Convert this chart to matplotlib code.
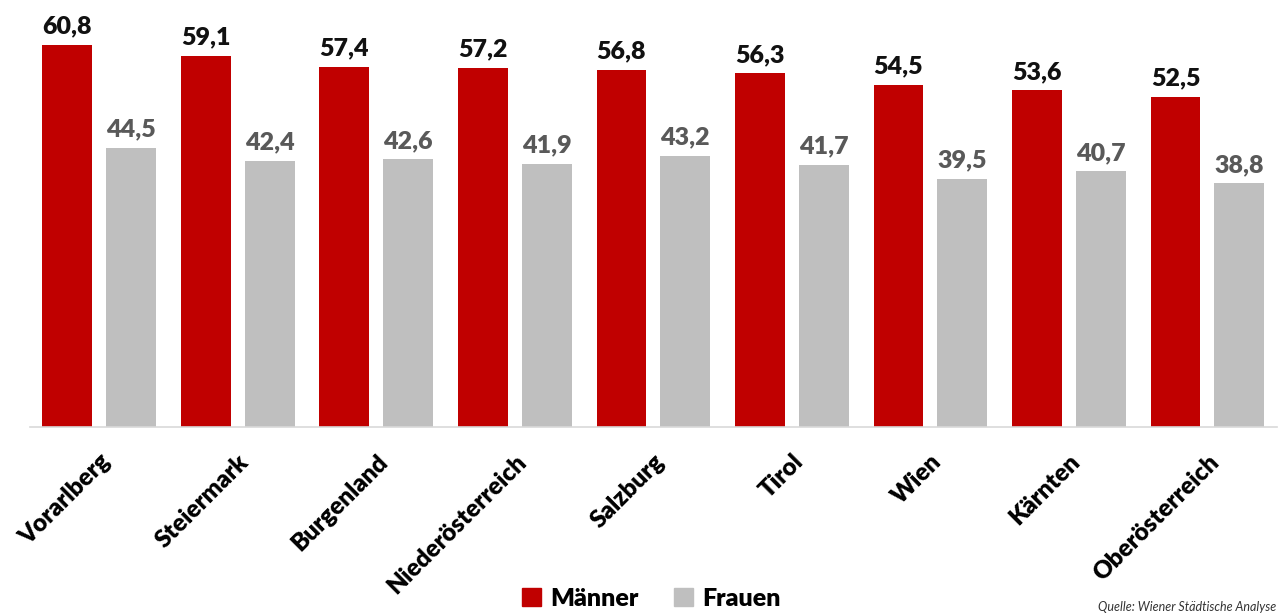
import numpy as np
import matplotlib.pyplot as plt
from matplotlib.patches import Patch

# data
regions = ['Vorarlberg', 'Steiermark', 'Burgenland', 'Niederösterreich', 'Salzburg',
           'Tirol', 'Wien', 'Kärnten', 'Oberösterreich']
maenner = [60.8, 59.1, 57.4, 57.2, 56.8, 56.3, 54.5, 53.6, 52.5]
frauen = [44.5, 42.4, 42.6, 41.9, 43.2, 41.7, 39.5, 40.7, 38.8]

red = '#c00000'
grey = '#bfbfbf'
font = ['Lato', 'DejaVu Sans']
plt.rcParams['font.family'] = font

fig = plt.figure(figsize=(12.8, 6.14), dpi=100)
ax = fig.add_axes([0.0234, 0.3046, 0.974, 0.6954])

x = np.arange(len(regions))
w = 0.36
off = 0.23
b1 = ax.bar(x - off, maenner, w, color=red, label='Männer')
b2 = ax.bar(x + off, frauen, w, color=grey, label='Frauen')

def fmt(v):
    return f'{v:.1f}'.replace('.', ',')

for r, v in zip(b1, maenner):
    ax.text(r.get_x() + r.get_width() / 2, v + 1.2, fmt(v), ha='center', va='bottom',
            fontsize=18, fontweight='heavy', color='#111111')
for r, v in zip(b2, frauen):
    ax.text(r.get_x() + r.get_width() / 2, v + 1.2, fmt(v), ha='center', va='bottom',
            fontsize=18, fontweight='heavy', color='#595959')

ax.set_xlim(-0.5, 8.5)
ax.set_ylim(0, 68)
ax.set_yticks([])
ax.set_xticks(x)
ax.set_xticklabels(regions, rotation=45, ha='right', va='top', rotation_mode='anchor',
                   fontsize=17.5, fontweight='heavy')
ax.tick_params(axis='x', length=0, pad=17)
for s in ['top', 'right', 'left']:
    ax.spines[s].set_visible(False)
ax.spines['bottom'].set_color('#d9d9d9')
ax.spines['bottom'].set_linewidth(1.2)

handles = [Patch(color=red, label='Männer'), Patch(color=grey, label='Frauen')]
fig.legend(handles=handles, loc='center', bbox_to_anchor=(0.509, 0.025), ncol=2, frameon=False,
           prop={'family': font, 'weight': 'heavy', 'size': 18}, handlelength=0.75, handleheight=0.75,
           handletextpad=0.4, columnspacing=1.4)

fig.text(0.997, 0.001, 'Quelle: Wiener Städtische Analyse', ha='right', va='bottom',
         fontsize=9, fontstyle='italic', color='#333333')

fig.savefig('out.png', dpi=100)
